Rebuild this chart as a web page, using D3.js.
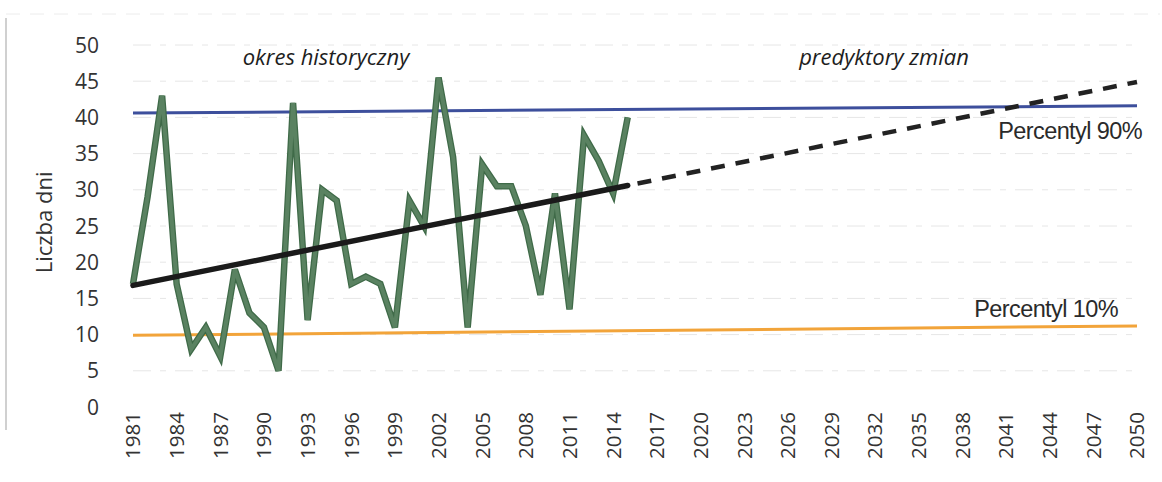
<!DOCTYPE html>
<html>
<head>
<meta charset="utf-8">
<script src="https://cdn.jsdelivr.net/npm/d3@7/dist/d3.min.js"></script>
<style>
  html, body { margin: 0; padding: 0; background: #fff; }
  svg { display: block; }
  .tick-label { font-family: "Open Sans", "Noto Sans", sans-serif; font-size: 21px; fill: #333; }
  .note { font-family: "Open Sans", sans-serif; font-style: italic; font-size: 22px; fill: #1e1e1e; }
  .pct { font-family: "Liberation Sans", Arial, sans-serif; font-size: 23.5px; fill: #2a2a2a; letter-spacing: -0.6px; }
</style>
</head>
<body>
<svg id="chart" width="1162" height="482"></svg>
<script>
  "use strict";

  // observed series (1981-2015)
  const years = d3.range(1981, 2016);
  const days = [17, 29, 43, 17, 8, 11, 7, 19, 13, 11, 5, 42, 12, 30, 28.5, 17, 18, 17, 11, 28.5,
                25, 45.5, 34.5, 11, 33.5, 30.5, 30.5, 25, 15.5, 29.5, 13.5, 37.5, 34, 29.5, 40];

  // linear trend: solid over history, dashed as projection
  const trendYears = [1981, 2015, 2050];
  const trendValues = [16.8, 30.6, 44.9];

  // percentile lines (start, end as drawn)
  const pctYears = [1981, 2050];
  const p90 = [40.6, 41.6];
  const p10 = [9.9, 11.2];

  const xTicks = d3.range(1981, 2051, 3);
  const yTicks = d3.range(0, 51, 5);

  const svg = d3.select("#chart");
  const x = d3.scaleLinear().domain([1981, 2050]).range([133, 1137]);
  const y = d3.scaleLinear().domain([0, 50]).range([407, 45]);

  // frame
  svg.append("line").attr("x1", 6).attr("x2", 6).attr("y1", 18).attr("y2", 430)
    .attr("stroke", "#d0d0d0").attr("stroke-width", 2);
  svg.append("line").attr("x1", 6).attr("x2", 1160).attr("y1", 14).attr("y2", 14)
    .attr("stroke", "#ececec").attr("stroke-width", 1).attr("stroke-dasharray", "14 10");

  // gridlines
  svg.append("g").selectAll("line").data(yTicks.filter((d) => d > 0)).join("line")
    .attr("x1", x(1981)).attr("x2", x(2050))
    .attr("y1", (d) => y(d)).attr("y2", (d) => y(d))
    .attr("stroke", "#e6e6e6").attr("stroke-width", 1).attr("stroke-dasharray", "18 9 6 9");

  // y axis labels
  svg.append("g").selectAll("text").data(yTicks).join("text")
    .attr("class", "tick-label")
    .attr("x", 99).attr("y", (d) => y(d)).attr("dy", "0.36em")
    .attr("text-anchor", "end")
    .text((d) => d);

  svg.append("text").attr("class", "tick-label")
    .attr("transform", `translate(52,${y(25.5)}) rotate(-90)`)
    .attr("text-anchor", "middle")
    .style("font-size", "22px")
    .text("Liczba dni");

  // x axis labels
  svg.append("g").selectAll("text").data(xTicks).join("text")
    .attr("class", "tick-label")
    .style("font-size", "20.5px")
    .attr("transform", (d) => `translate(${x(d)},412) rotate(-90)`)
    .attr("text-anchor", "end").attr("dy", "0.36em")
    .text((d) => d);

  // percentiles
  const line2 = (vals) => d3.line().x((d, i) => x(pctYears[i])).y((d) => y(d))(vals);
  svg.append("path").attr("d", line2(p10)).attr("fill", "none")
    .attr("stroke", "#f2a43a").attr("stroke-width", 3);
  svg.append("path").attr("d", line2(p90)).attr("fill", "none")
    .attr("stroke", "#3d4f9c").attr("stroke-width", 3);

  // observed
  const lineGen = d3.line().x((d, i) => x(years[i])).y((d) => y(d));
  svg.append("path").attr("d", lineGen(days)).attr("fill", "none")
    .attr("stroke", "#3f6a48").attr("stroke-width", 6.5).attr("stroke-linejoin", "miter");
  svg.append("path").attr("d", lineGen(days)).attr("fill", "none")
    .attr("stroke", "#5a8261").attr("stroke-width", 4).attr("stroke-linejoin", "miter");

  // trend
  const trendLine = d3.line().x((d) => x(d[0])).y((d) => y(d[1]));
  svg.append("path")
    .attr("d", trendLine([[trendYears[0], trendValues[0]], [trendYears[1], trendValues[1]]]))
    .attr("fill", "none").attr("stroke", "#1a1a1a").attr("stroke-width", 5.5).attr("stroke-linecap", "round");
  svg.append("path")
    .attr("d", trendLine([[trendYears[1], trendValues[1]], [trendYears[2], trendValues[2]]]))
    .attr("fill", "none").attr("stroke", "#222").attr("stroke-width", 4.5)
    .attr("stroke-dasharray", "14 11").attr("stroke-dashoffset", -10);

  // annotations
  svg.append("text").attr("class", "note").attr("x", 326).attr("y", 65)
    .attr("text-anchor", "middle").text("okres historyczny");
  svg.append("text").attr("class", "note").attr("x", 884).attr("y", 65)
    .attr("text-anchor", "middle").text("predyktory zmian");
  svg.append("text").attr("class", "pct").attr("x", 1142).attr("y", 139)
    .attr("text-anchor", "end").text("Percentyl 90%");
  svg.append("text").attr("class", "pct").attr("x", 1118).attr("y", 317)
    .attr("text-anchor", "end").text("Percentyl 10%");
</script>
</body>
</html>
